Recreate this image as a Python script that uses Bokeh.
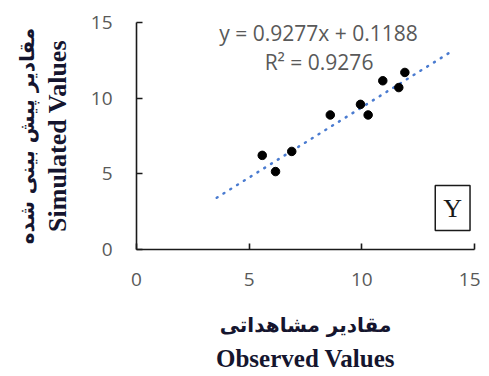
from bokeh.plotting import figure
from bokeh.models import Label, Range1d, FixedTicker, Title
from bokeh.embed import file_html
from bokeh.resources import INLINE

# observed / simulated values
observed = [5.58, 6.17, 6.89, 8.60, 9.94, 10.28, 10.93, 11.64, 11.91]
simulated = [6.22, 5.15, 6.48, 8.89, 9.59, 8.89, 11.15, 10.70, 11.70]

slope = 0.9277
intercept = 0.1188
r2 = 0.9276
trend_x = [3.56, 14.04]

ticks = [0, 5, 10, 15]

title_color = "#15152e"

p = figure(width=480, height=374, output_backend="svg", toolbar_location=None,
           x_range=Range1d(0, 15), y_range=Range1d(0, 15),
           min_border_left=136, min_border_right=6, min_border_top=22, min_border_bottom=122)
p.outline_line_color = None
p.xgrid.grid_line_color = None
p.ygrid.grid_line_color = None
p.background_fill_color = "white"
p.border_fill_color = "white"

for ax in (p.xaxis[0], p.yaxis[0]):
    ax.ticker = FixedTicker(ticks=ticks)
    ax.minor_tick_line_color = None
    ax.major_tick_in = 6
    ax.major_tick_out = 0
    ax.axis_line_color = "#1a1a1a"
    ax.axis_line_width = 1.6
    ax.major_tick_line_color = "#1a1a1a"
    ax.major_tick_line_width = 1.6
    ax.major_label_text_font = "Open Sans"
    ax.major_label_text_font_size = "19px"
    ax.major_label_text_color = "#595959"
p.xaxis[0].major_label_standoff = 23
p.yaxis[0].major_label_standoff = 24

# axis titles (English / Persian)
p.yaxis[0].axis_label = "Simulated Values"
p.yaxis[0].axis_label_text_font = "Liberation Serif"
p.yaxis[0].axis_label_text_font_style = "bold"
p.yaxis[0].axis_label_text_font_size = "26px"
p.yaxis[0].axis_label_text_color = title_color
p.yaxis[0].axis_label_standoff = 16

p.xaxis[0].axis_label = "مقادیر مشاهداتی"
p.xaxis[0].axis_label_text_font = "DejaVu Sans"
p.xaxis[0].axis_label_text_font_style = "bold"
p.xaxis[0].axis_label_text_font_size = "20px"
p.xaxis[0].axis_label_text_color = title_color
p.xaxis[0].axis_label_standoff = 24

p.add_layout(Title(text="مقادیر پیش بینی شده", text_font="DejaVu Sans", text_font_style="bold",
                   text_font_size="20px", text_color=title_color, align="center", standoff=2), "left")
p.add_layout(Title(text="Observed Values", text_font="Liberation Serif", text_font_style="bold",
                   text_font_size="25px", text_color=title_color, align="center", standoff=6), "below")

# trendline
trend_y = [slope * x + intercept for x in trend_x]
p.line(trend_x, trend_y, line_color="#4a7bd0", line_width=2.5, line_dash="1 7", line_cap="round")

# points
p.scatter(observed, simulated, size=8.5, fill_color="black", line_color="black")

# equation texts
p.add_layout(Label(x=8.08, y=14.29, text=f"y = {slope}x + {intercept}", text_font="Open Sans",
                   text_font_size="21px", text_color="#595959", text_align="center", text_baseline="middle"))
p.add_layout(Label(x=8.1, y=12.39, text=f"R² = {r2}", text_font="Open Sans",
                   text_font_size="21px", text_color="#595959", text_align="center", text_baseline="middle"))

# boxed Y label
p.add_layout(Label(x=14.03, y=2.74, text="Y", text_font="Liberation Serif", text_font_size="26px",
                   text_color="#1a1a1a", text_align="center", text_baseline="middle",
                   border_line_color="#1a1a1a", border_line_width=1.5, padding=8,
                   background_fill_color="white"))

open("out.html", "w").write(file_html(p, INLINE))
